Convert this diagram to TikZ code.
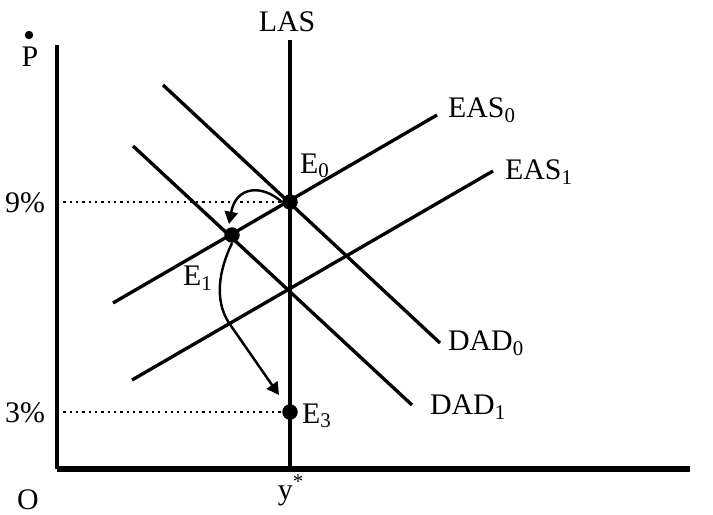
\documentclass[tikz,border=0pt]{standalone}
\usepackage{fontspec}
\setmainfont{Liberation Serif}
\usetikzlibrary{arrows.meta}
\tikzset{
	curve/.style={line width=1.9pt},
	vaxis/.style={line width=2pt},
	haxis/.style={line width=3.6pt},
	guide/.style={line width=1.3pt, dash pattern=on 1.3pt off 2.3pt},
	eqdot/.style={circle, fill, inner sep=0pt, minimum size=0.31cm},
	move/.style={line width=1.4pt, -{Triangle[length=7pt,width=7.5pt]}},
	lbl/.style={inner sep=1pt}
}
\begin{document}
\begin{tikzpicture}[x=0.02cm, y=-0.02cm, font=\fontsize{17}{19}\selectfont]
	\useasboundingbox (0,0) rectangle (713,514);
	% Axes:
	\coordinate (ytop) at (57,45);
	\coordinate (O) at (57,469);
	\coordinate (xend) at (690,469);
	\draw[vaxis] (ytop) -- (O);
	\draw[haxis] (O) -- (xend);
	\node[lbl] (Olbl) at (28,500) {O};
	\node[lbl] (Plbl) at (30,57) {P};
	\node[circle, fill, inner sep=0pt, minimum size=0.17cm] (Pdot) at (29,35) {};
	% LAS and curves:
	\coordinate (lastop) at (290,40);
	\coordinate (lasbot) at (290,469);
	\draw[curve] (lastop) -- (lasbot);
	\node[lbl] (las) at (287,22) {LAS};
	\node[lbl] (ystar) at (291,490) {y\textsuperscript{*}};
	\coordinate (eas0a) at (113,303);
	\coordinate (eas0b) at (437,115);
	\coordinate (eas1a) at (132,380);
	\coordinate (eas1b) at (493,171);
	\coordinate (dad0a) at (163,85);
	\coordinate (dad0b) at (440,343);
	\coordinate (dad1a) at (133,146);
	\coordinate (dad1b) at (412,405);
	\draw[curve] (eas0a) -- (eas0b);
	\draw[curve] (eas1a) -- (eas1b);
	\draw[curve] (dad0a) -- (dad0b);
	\draw[curve] (dad1a) -- (dad1b);
	\node[lbl, anchor=west] (eas0) at (446,110) {EAS\textsubscript{0}};
	\node[lbl, anchor=west] (eas1) at (503,172) {EAS\textsubscript{1}};
	\node[lbl, anchor=west] (dad0) at (446,343) {DAD\textsubscript{0}};
	\node[lbl, anchor=west] (dad1) at (428,407) {DAD\textsubscript{1}};
	% Equilibria:
	\node[eqdot] (E0) at (290,202) {};
	\node[eqdot] (E1) at (232,235) {};
	\node[eqdot] (E3) at (290,412) {};
	\node[lbl] (E0lbl) at (315,166) {E\textsubscript{0}};
	\node[lbl] (E1lbl) at (198,278) {E\textsubscript{1}};
	\node[lbl, anchor=west] (E3lbl) at (300,416) {E\textsubscript{3}};
	\node[lbl] (p9) at (25,203) {9\%};
	\node[lbl] (p3) at (25,413) {3\%};
	\draw[guide] (57,202) -- (E0);
	\draw[guide] (57,412) -- (E3);
	% Adjustment paths:
	\coordinate (tip1) at (229,224);
	\coordinate (bend) at (229,323);
	\coordinate (tip2) at (279,395);
	\draw[move] (E0.west) .. controls (262,184) and (236,186) .. (tip1);
	\draw[move] (E1.south) .. controls (219,270) and (214,300) .. (bend) -- (tip2);
\end{tikzpicture}
\end{document}
